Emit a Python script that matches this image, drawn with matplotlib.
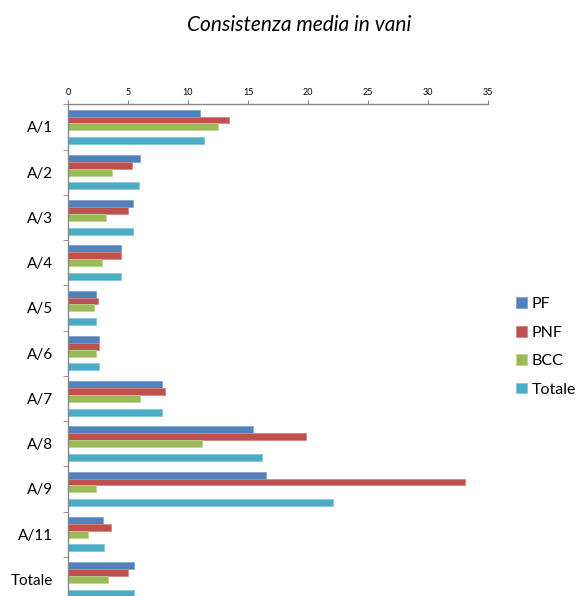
import matplotlib.pyplot as plt
import numpy as np

plt.rcParams["font.family"] = ["Lato", "DejaVu Sans"]

# data (vani)
categories = ["A/1", "A/2", "A/3", "A/4", "A/5", "A/6", "A/7", "A/8", "A/9", "A/11", "Totale"]
pf     = [11.0, 6.0, 5.4, 4.4, 2.3, 2.6, 7.8, 15.4, 16.5, 2.9, 5.5]
pnf    = [13.4, 5.3, 5.0, 4.4, 2.5, 2.6, 8.1, 19.8, 33.1, 3.6, 5.0]
bcc    = [12.5, 3.7, 3.2, 2.8, 2.2, 2.3, 6.0, 11.2, 2.3, 1.7, 3.3]
totale = [11.3, 5.9, 5.4, 4.4, 2.3, 2.6, 7.8, 16.2, 22.1, 3.0, 5.5]

series = [("PF", pf, "#4F81BD", "#7FA3D1"),
          ("PNF", pnf, "#C0504D", "#D68582"),
          ("BCC", bcc, "#9BBB59", "#BCD38E"),
          ("Totale", totale, "#4BACC6", "#84C7D9")]
slots = [0, 1, 2, 4]   # slot 3 is empty, as in the original

fig = plt.figure(figsize=(5.79, 5.96), dpi=100)
ax = fig.add_axes([68/579, 1 - 602/596, 420/579, (602 - 104.3)/596])

y = np.arange(len(categories))
h = 0.152
for (name, vals, col, edge), s in zip(series, slots):
    ax.barh(y - 0.38 + h*(s + 0.5), vals, height=h, color=col,
            edgecolor=edge, linewidth=0.6, label=name)

ax.set_xlim(0, 35)
ax.set_ylim(len(categories) - 0.5, -0.5)
ax.set_xticks(np.arange(0, 36, 5))
ax.xaxis.tick_top()
ax.tick_params(axis="x", labelsize=6.5, length=3, color="#868686", pad=2)

ax.set_yticks(y)
ax.set_yticklabels(categories)
ax.set_yticks(np.arange(len(categories)) - 0.5, minor=True)
ax.tick_params(axis="y", which="major", length=0, labelsize=11, pad=10.5)
ax.tick_params(axis="y", which="minor", length=3.5, color="#868686")

for side in ["right", "bottom"]:
    ax.spines[side].set_visible(False)
for side in ["top", "left"]:
    ax.spines[side].set_color("#868686")
    ax.spines[side].set_linewidth(1.0)

fig.text(0.516, 1 - 25/596, "Consistenza media in vani", ha="center", va="center",
         fontsize=15, style="italic")

fig.legend(loc="center left", bbox_to_anchor=(516/579, 1 - 347/596), frameon=False,
           fontsize=11.5, borderpad=0, borderaxespad=0, handlelength=0.67,
           handleheight=0.67, handletextpad=0.3, labelspacing=0.9)

fig.savefig("out.png", dpi=100)
